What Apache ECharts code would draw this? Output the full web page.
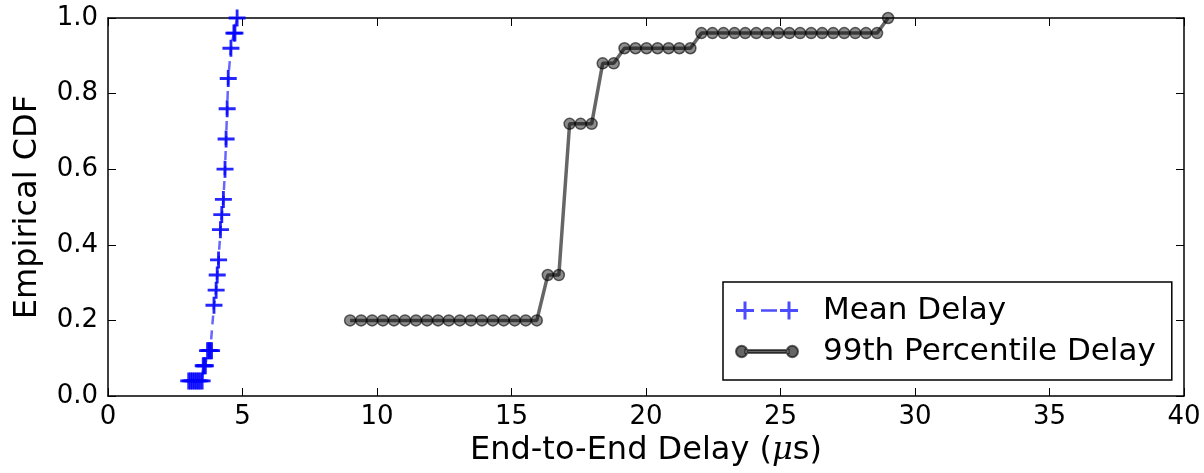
<!DOCTYPE html>
<html>
<head>
<meta charset="utf-8">
<script src="https://cdn.jsdelivr.net/npm/echarts@6/dist/echarts.min.js"></script>
<style>
html, body { margin: 0; padding: 0; background: #fff; }
#chart { width: 1204px; height: 473px; }
</style>
</head>
<body>
<div id="chart"></div>
<script>
// mean delay (us) and its CDF value
var meanX = [3.00, 3.07, 3.14, 3.21, 3.28, 3.35, 3.42, 3.50,
             3.54, 3.58, 3.62,
             3.70, 3.75, 3.80, 3.85,
             3.94, 4.02, 4.06, 4.11, 4.18, 4.23, 4.29, 4.35, 4.39, 4.43, 4.47, 4.57, 4.68, 4.72, 4.80];
var meanY = [0.04, 0.04, 0.04, 0.04, 0.04, 0.04, 0.04, 0.04,
             0.08, 0.08, 0.08,
             0.12, 0.12, 0.12, 0.12,
             0.24, 0.28, 0.32, 0.36, 0.44, 0.48, 0.52, 0.60, 0.68, 0.76, 0.84, 0.92, 0.96, 0.96, 1.00];

// 99th percentile delay (us) and its CDF value
var p99X = [9.00, 9.41, 9.82, 10.22, 10.63, 11.04, 11.45, 11.86, 12.27, 12.67,
            13.08, 13.49, 13.90, 14.31, 14.71, 15.12, 15.53, 15.94, 16.35, 16.76,
            17.16, 17.57, 17.98, 18.39, 18.80, 19.20, 19.61, 20.02, 20.43, 20.84,
            21.24, 21.65, 22.06, 22.47, 22.88, 23.29, 23.69, 24.10, 24.51, 24.92,
            25.33, 25.73, 26.14, 26.55, 26.96, 27.37, 27.78, 28.18, 28.59, 29.00];
var p99Y = [0.20, 0.20, 0.20, 0.20, 0.20, 0.20, 0.20, 0.20, 0.20, 0.20,
            0.20, 0.20, 0.20, 0.20, 0.20, 0.20, 0.20, 0.20, 0.32, 0.32,
            0.72, 0.72, 0.72, 0.88, 0.88, 0.92, 0.92, 0.92, 0.92, 0.92,
            0.92, 0.92, 0.96, 0.96, 0.96, 0.96, 0.96, 0.96, 0.96, 0.96,
            0.96, 0.96, 0.96, 0.96, 0.96, 0.96, 0.96, 0.96, 0.96, 1.00];

var seriesNames = ['Mean Delay', '99th Percentile Delay'];

function pairs(xs, ys) {
    var out = [];
    for (var i = 0; i < xs.length; i++) {
        out.push([xs[i], ys[i]]);
    }
    return out;
}

var font = 'DejaVu Sans';
var plusPath = 'path://M7.5,0H10.5V7.5H18V10.5H10.5V18H7.5V10.5H0V7.5H7.5Z';
// legend icons like matplotlib: marker at both ends of a short line
var meanIcon = 'path://M7.5,0H10.5V7.5H18V10.5H10.5V18H7.5V10.5H0V7.5H7.5Z' +
    'M25,7.7H41V10.3H25Z' +
    'M51.5,0H54.5V7.5H62V10.5H54.5V18H51.5V10.5H44V7.5H51.5Z';
var p99Icon = 'path://M1,9A5.5,5.5 0 1,0 12,9A5.5,5.5 0 1,0 1,9Z' +
    'M10,7.5H52V10.5H10Z' +
    'M50,9A5.5,5.5 0 1,0 61,9A5.5,5.5 0 1,0 50,9Z';

var frameAxis = {
    axisLine: { show: true, onZero: false, lineStyle: { color: '#000', width: 1.5 } },
    axisTick: { inside: true, length: 8, lineStyle: { color: '#000' } },
    splitLine: { show: false }
};

var myChart = echarts.init(document.getElementById('chart'));
var option = {
    animation: false,
    textStyle: { fontFamily: font },
    grid: { left: 108, right: 20, top: 18, bottom: 77 },
    legend: {
        orient: 'vertical',
        left: 723,
        top: 282,
        padding: [13, 16, 13, 12],
        itemGap: 10,
        itemWidth: 62,
        itemHeight: 18,
        borderColor: '#000',
        borderWidth: 1.5,
        borderRadius: 0,
        textStyle: { fontSize: 31, color: '#000', fontFamily: font, padding: [0, 0, 0, 20] },
        data: [
            { name: seriesNames[0], icon: meanIcon, itemStyle: { color: 'rgba(0,0,255,0.7)' } },
            { name: seriesNames[1], icon: p99Icon, itemStyle: { color: 'rgba(0,0,0,0.6)' } }
        ]
    },
    xAxis: [
        Object.assign({
            type: 'value',
            min: 0, max: 40, interval: 5,
            name: 'End-to-End Delay ({i|μ}s)',
            nameLocation: 'middle',
            nameGap: 38,
            nameTextStyle: {
                fontSize: 32, color: '#000', fontFamily: font,
                rich: { i: { fontSize: 32, fontStyle: 'italic', fontFamily: 'DejaVu Serif' } }
            },
            axisLabel: { fontSize: 26, color: '#000', margin: 8 }
        }, frameAxis),
        Object.assign({
            type: 'value', position: 'top',
            min: 0, max: 40, interval: 5,
            axisLabel: { show: false }
        }, frameAxis)
    ],
    yAxis: [
        Object.assign({
            type: 'value',
            min: 0, max: 1, interval: 0.2,
            name: 'Empirical CDF',
            nameLocation: 'middle',
            nameGap: 64,
            nameTextStyle: { fontSize: 32, color: '#000', fontFamily: font },
            axisLabel: {
                fontSize: 26, color: '#000', margin: 10,
                formatter: function (v) { return v.toFixed(1); }
            }
        }, frameAxis),
        Object.assign({
            type: 'value', position: 'right',
            min: 0, max: 1, interval: 0.2,
            axisLabel: { show: false }
        }, frameAxis)
    ],
    series: [
        {
            name: seriesNames[0],
            type: 'line',
            data: pairs(meanX, meanY),
            symbol: plusPath,
            symbolSize: 17,
            lineStyle: { color: 'rgba(0,0,255,0.6)', width: 2.5, type: [9, 6] },
            itemStyle: { color: 'rgba(0,0,255,0.85)' }
        },
        {
            name: seriesNames[1],
            type: 'line',
            data: pairs(p99X, p99Y),
            symbol: 'circle',
            symbolSize: 11,
            lineStyle: { color: 'rgba(0,0,0,0.6)', width: 3.5 },
            itemStyle: { color: 'rgba(0,0,0,0.45)', borderColor: 'rgba(0,0,0,0.6)', borderWidth: 1.5 }
        }
    ]
};
myChart.setOption(option);
</script>
</body>
</html>
